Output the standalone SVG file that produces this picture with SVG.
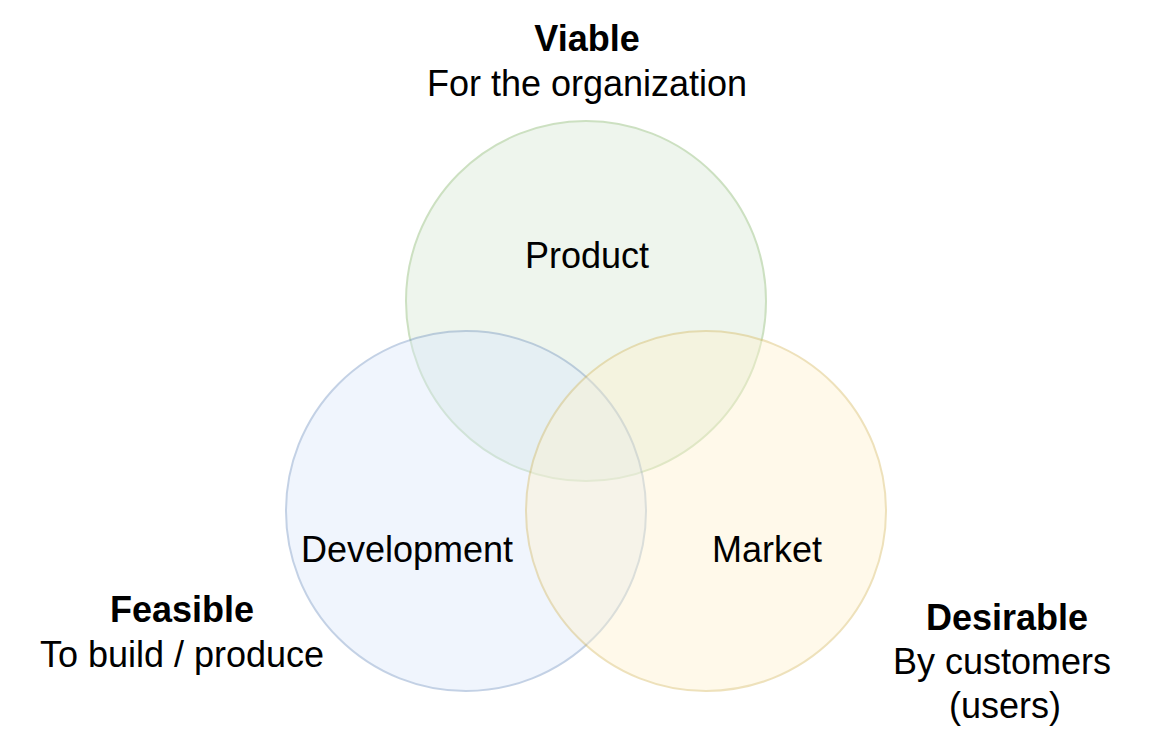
<svg xmlns="http://www.w3.org/2000/svg" width="1155" height="750" viewBox="0 0 1155 750">
<style>
text{font-family:"Liberation Sans",Arial,Helvetica,sans-serif;font-size:36px;fill:#000;text-anchor:middle}
.b{font-weight:bold}
.c{stroke-width:2;opacity:0.4}
</style>
<rect width="1155" height="750" fill="#fff"/>
<g id="product"><circle class="c" cx="586" cy="301" r="180" fill="#d5e8d4" stroke="#82b366"/><text x="587" y="268">Product</text></g>
<g id="development"><circle class="c" cx="466" cy="511" r="180" fill="#dae8fc" stroke="#6c8ebf"/><text x="407" y="562">Development</text></g>
<g id="market"><circle class="c" cx="706" cy="511" r="180" fill="#fff2cc" stroke="#d6b656"/><text x="767" y="562">Market</text></g>
<g id="viable"><text class="b" x="587" y="51">Viable</text><text x="587" y="96">For the organization</text></g>
<g id="feasible"><text class="b" x="182" y="622">Feasible</text><text x="182" y="667">To build / produce</text></g>
<g id="desirable"><text class="b" x="1007" y="630">Desirable</text><text x="1002" y="674">By customers</text><text x="1005" y="718">(users)</text></g>
<g id="connectors"/>
</svg>
